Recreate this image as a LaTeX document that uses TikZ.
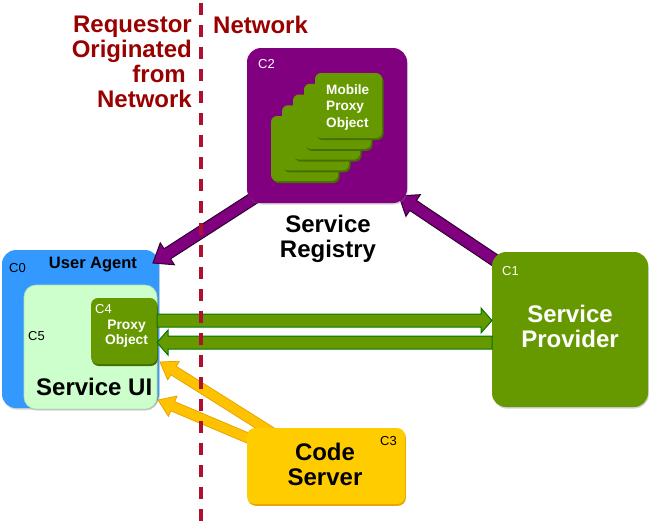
\documentclass[tikz,border=0pt]{standalone}
\usepackage{fontspec}
\setmainfont{Liberation Sans}
\usetikzlibrary{calc,shadows}
\definecolor{dred}{RGB}{153,0,0}
\definecolor{dashred}{RGB}{176,16,48}
\definecolor{purp}{RGB}{128,0,128}
\definecolor{purpdark}{RGB}{48,0,48}
\definecolor{ablue}{RGB}{51,153,255}
\definecolor{mint}{RGB}{204,255,204}
\definecolor{mintedge}{RGB}{175,225,175}
\definecolor{agreen}{RGB}{102,153,0}
\definecolor{agreendark}{RGB}{72,110,0}
\definecolor{arrgreenedge}{RGB}{0,120,0}
\definecolor{ayellow}{RGB}{255,204,0}
\definecolor{ayellowedge}{RGB}{230,165,0}
\definecolor{ayellowarr}{RGB}{255,194,0}
\newcommand{\blockarrow}[6]{%
  \coordinate (bah) at ($(#2)!#5!(#1)$);
  \draw[#6] ($(#1)!#3!90:(#2)$) -- ($(bah)!#3!90:(#2)$) -- ($(bah)!#4!90:(#2)$) -- (#2)
    -- ($(bah)!#4!-90:(#2)$) -- ($(bah)!#3!-90:(#2)$) -- ($(#1)!#3!-90:(#2)$) -- cycle;}
\begin{document}
\begin{tikzpicture}[x=1pt,y=-1pt,
  bigbox/.style={rounded corners=14pt, inner sep=0pt, outer sep=0pt,
    drop shadow={shadow xshift=0.8pt,shadow yshift=-1.5pt,opacity=0.35}},
  card/.style={fill=agreen, rounded corners=6pt, inner sep=0pt, minimum width=67pt, minimum height=65pt,
    drop shadow={shadow xshift=1.5pt,shadow yshift=-2pt,fill=agreendark,opacity=1}},
  lbl/.style={font=\fontsize{13}{15}\selectfont, inner sep=0pt, anchor=base west},
  big/.style={font=\bfseries\fontsize{24}{25}\selectfont, inner sep=0pt},
  small/.style={font=\bfseries\fontsize{13.8}{15}\selectfont, inner sep=0pt},
  parr/.style={fill=purp, draw=purpdark, line width=1pt, line join=miter},
  garr/.style={fill=agreen, draw=arrgreenedge, line width=1pt, line join=miter},
  yarr/.style={fill=ayellowarr, draw=ayellowedge, line width=0.8pt, line join=miter}]
\useasboundingbox (0,0) rectangle (650,523);

% headings
\node[big, text=dred, align=right, anchor=north east] (req) at (192,15.8)
  {Requestor\\Originated\\from\kern6pt\\Network};
\node[big, text=dred, anchor=base west] (net) at (213,33) {Network};

% User agent
\node[bigbox, fill=ablue, minimum width=157pt, minimum height=158pt] (c0) at (80.5,329) {};
\node[bigbox, rounded corners=12pt, fill=mint, draw=mintedge, line width=0.6pt,
  minimum width=133pt, minimum height=124pt] (c5) at (90.5,347) {};
\node[bigbox, rounded corners=7pt, fill=agreen,
  drop shadow={shadow xshift=0.8pt,shadow yshift=-2pt,fill=agreendark,opacity=1},
  minimum width=66pt, minimum height=66pt] (c4) at (124,331) {};
\node[lbl] (c0l) at (9,272) {C0};
\node[font=\bfseries\fontsize{16.5}{18}\selectfont, inner sep=0pt, anchor=base] (ua) at (93,268) {User Agent};
\node[lbl] (c5l) at (28,340) {C5};
\node[lbl, text=white] (c4l) at (95,313) {C4};
\node[small, text=white, align=center, anchor=north] (po) at (126.5,320.1) {Proxy\\Object};
\node[big, anchor=base west] (sui) at (36,395) {Service UI};

% arrows (purple)
\coordinate (pl1) at ($(c0.north west)+(266,-61)$);
\coordinate (pl2) at ($(c0.north east)+(-6,13)$);
\blockarrow{pl1}{pl2}{6pt}{13pt}{17pt}{parr}
\coordinate (pr1) at ($(c0.north east)+(346,17)$);
\coordinate (pr2) at ($(c0.north east)+(240,-54)$);
\blockarrow{pr1}{pr2}{6pt}{13pt}{17pt}{parr}

% Service registry
\node[bigbox, fill=purp, minimum width=160pt, minimum height=155pt] (c2) at (327,125.5) {};
\node[lbl, text=white] (c2l) at (258,68) {C2};
\node[card] (m0) at (304.5,148.5) {};
\node[card] (m1) at (315.5,137.75) {};
\node[card] (m2) at (326.5,127) {};
\node[card] (m3) at (337.5,116.25) {};
\node[card] (m4) at (348.5,105.5) {};
\node[small, text=white, align=left, anchor=north west, font=\bfseries\fontsize{13.6}{16.5}\selectfont]
  (mpo) at (326,84.2) {Mobile\\Proxy\\Object};
\node[big, align=center, anchor=north] (sreg) at (328,215.3) {Service\\Registry};

% Service provider
\node[bigbox, fill=agreen, minimum width=156pt, minimum height=155pt] (c1) at (570,329.5) {};
\node[lbl, text=white] (c1l) at (502,275) {C1};
\node[big, text=white, align=center, anchor=north] (sp) at (570,305.3) {Service\\Provider};

% green arrows
\coordinate (g1a) at (c4.east |- 0,320.5);
\coordinate (g1b) at (c1.west |- 0,320.5);
\blockarrow{g1a}{g1b}{6.5pt}{12.5pt}{11pt}{garr}
\coordinate (g2a) at (c1.west |- 0,342.5);
\coordinate (g2b) at (c4.east |- 0,342.5);
\blockarrow{g2a}{g2b}{6.5pt}{12.5pt}{11pt}{garr}

% yellow arrows
\coordinate (y1a) at (276,435);
\coordinate (y1b) at ($(c5.east)+(3,15)$);
\blockarrow{y1a}{y1b}{5pt}{11pt}{16pt}{yarr}
\coordinate (y2a) at (262,444);
\coordinate (y2b) at ($(c5.east)+(1,53)$);
\blockarrow{y2a}{y2b}{5pt}{11pt}{16pt}{yarr}

% Code server
\node[bigbox, rounded corners=8pt, fill=ayellow,
  drop shadow={shadow xshift=0.8pt,shadow yshift=-1.8pt,fill=ayellowedge,opacity=1},
  minimum width=158pt, minimum height=76pt] (c3) at (326,466) {};
\node[lbl] (c3l) at (380,445) {C3};
\node[big, align=center, anchor=north] (cs) at (325,442.4) {Code\\Server};

% divider
\coordinate (dtop) at (201,3);
\coordinate (dbot) at (201,523);
\draw[dashred, line width=3.5pt, dash pattern=on 12pt off 10pt] (dtop) -- (dbot);
\end{tikzpicture}
\end{document}
